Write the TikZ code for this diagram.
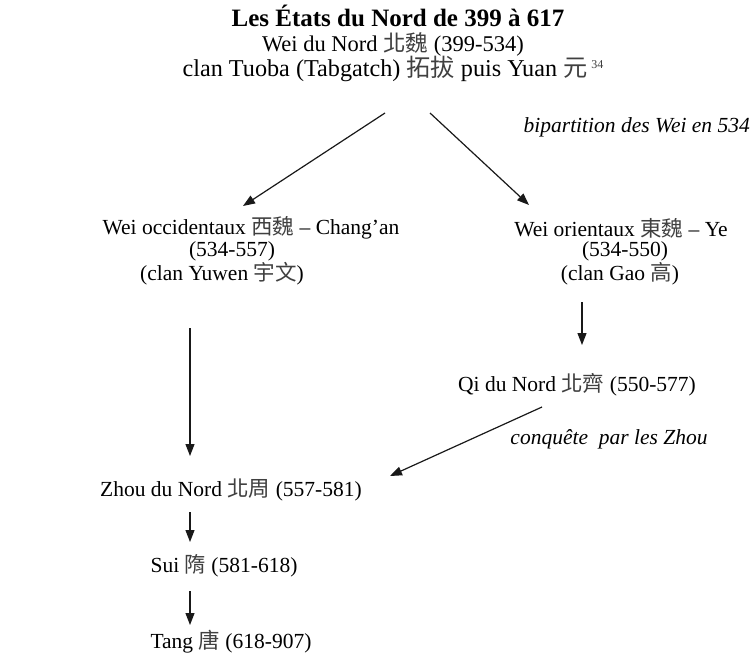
\documentclass[tikz,border=0pt]{standalone}
\usepackage{fontspec}
\setmainfont{Liberation Serif}
\newfontfamily\cjk{Noto Sans CJK TC}
\usetikzlibrary{arrows.meta}
\newcommand{\zh}[1]{{\cjk\color{black!75}#1}}
\begin{document}
\begin{tikzpicture}[x=1pt,y=-1pt,
  lbl/.style={inner sep=0pt,font=\fontsize{21.5}{23}\selectfont},
  toplbl/.style={inner sep=0pt,font=\fontsize{22.5}{25}\selectfont},
  titlelbl/.style={inner sep=0pt,font=\fontsize{25}{27}\selectfont\bfseries},
  note/.style={inner sep=0pt,font=\fontsize{21.5}{23}\selectfont\itshape},
  arr/.style={-{Triangle[length=12pt,width=9pt]},line width=1.2pt,black!90}]
\path[use as bounding box,fill=white] (0,0) rectangle (750,658);
% top block
\node[titlelbl] (t1) at (398,16) {Les États du Nord de 399 à 617};
\node[toplbl] (t2) at (393,44) {Wei du Nord \zh{北魏} (399-534)};
\node[toplbl,font=\fontsize{24.2}{26}\selectfont] (t3) at (393,69) {clan Tuoba (Tabgatch) \zh{拓拔} puis Yuan \zh{元}\,{\fontsize{12}{12}\selectfont\color{black!75}\raisebox{8pt}{34}}};
\node[note,anchor=east] (n1) at (750,127) {bipartition des Wei en 534};
% west
\node[lbl] (wo1) at (251,228) {Wei occidentaux \zh{西魏} – Chang’an};
\node[lbl] (wo2) at (232,251) {(534-557)};
\node[lbl] (wo3) at (222,274) {(clan Yuwen \zh{宇文})};
% east
\node[lbl] (eo1) at (621,228) {Wei orientaux \zh{東魏} – Ye};
\node[lbl] (eo2) at (625,251) {(534-550)};
\node[lbl] (eo3) at (620,274) {(clan Gao \zh{高})};
\node[lbl] (qi) at (577,385) {Qi du Nord \zh{北齊} (550-577)};
\node[note] (n2) at (609,439) {conquête\ \ par les Zhou};
% lower chain
\node[lbl] (zhou) at (231,490) {Zhou du Nord \zh{北周} (557-581)};
\node[lbl] (sui) at (224,566) {Sui \zh{隋} (581-618)};
\node[lbl] (tang) at (231,642) {Tang \zh{唐} (618-907)};
% connector ends
\coordinate (a1s) at (385,113); \coordinate (a1e) at (243,206);
\coordinate (a2s) at (430,113); \coordinate (a2e) at (529,205);
\coordinate (a3s) at (190,328); \coordinate (a3e) at (190,456);
\coordinate (a4s) at (582,302); \coordinate (a4e) at (582,345);
\coordinate (a5s) at (542,407); \coordinate (a5e) at (390,476);
\coordinate (a6s) at (190,512); \coordinate (a6e) at (190,542);
\coordinate (a7s) at (190,591); \coordinate (a7e) at (190,625);
\draw[arr] (a1s) -- (a1e);
\draw[arr] (a2s) -- (a2e);
\draw[arr] (a3s) -- (a3e);
\draw[arr] (a4s) -- (a4e);
\draw[arr] (a5s) -- (a5e);
\draw[arr] (a6s) -- (a6e);
\draw[arr] (a7s) -- (a7e);
\end{tikzpicture}
\end{document}
